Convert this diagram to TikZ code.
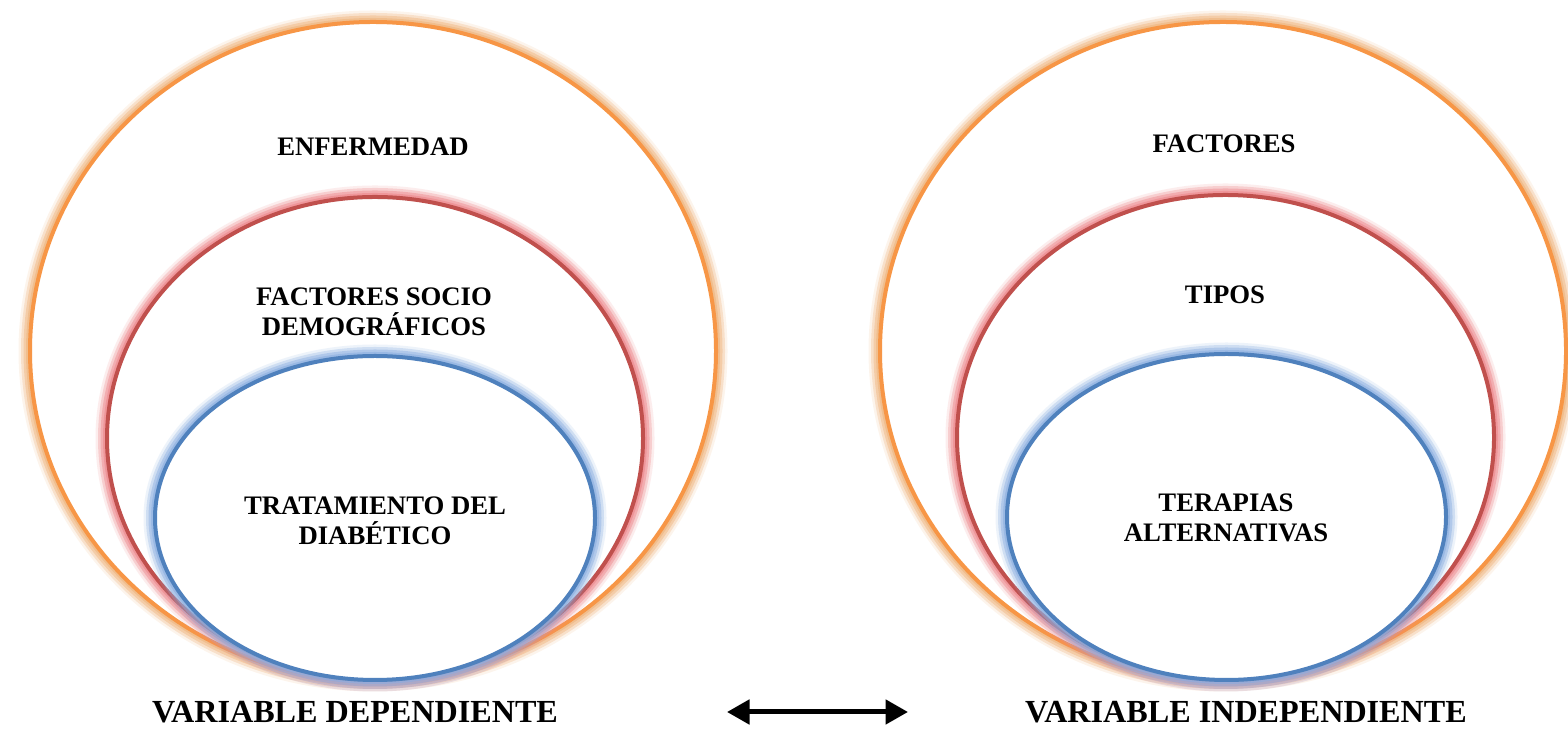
\documentclass[tikz,border=0pt]{standalone}
\usepackage{fontspec}
\setmainfont{Liberation Serif}
\usepackage{xcolor}
\definecolor{ringorange}{RGB}{247,150,70}
\definecolor{ringred}{RGB}{192,80,77}
\definecolor{ringblue}{RGB}{79,129,189}
\definecolor{gloworange}{RGB}{238,180,125}
\definecolor{glowred}{RGB}{238,135,140}
\definecolor{glowblue}{RGB}{140,175,225}
\usepackage{tikz}
\usetikzlibrary{arrows.meta, positioning, shapes.geometric}

\tikzset{
  ring/.style 2 args={ellipse, draw=#1, line width=0.08cm, fill=white, inner sep=0pt,
    preaction={draw=#2, line width=0.46cm, opacity=0.15},
    preaction={draw=#2, line width=0.36cm, opacity=0.3},
    preaction={draw=#2, line width=0.26cm, opacity=0.45},
    preaction={draw=#2, line width=0.16cm, opacity=0.6}},
  ringlabel/.style={font=\fontsize{15.2}{17}\selectfont\bfseries, align=center},
  varlabel/.style={font=\fontsize{18.3}{20}\selectfont\bfseries, align=center},
}

\begin{document}
\begin{tikzpicture}
  \useasboundingbox (0,0) rectangle (31.36,14.62);

  % Variable dependiente
  \node[ring={ringorange}{gloworange}, minimum width=13.72cm, minimum height=13.16cm] (depOuter) at (7.46,7.60) {};
  \node[ring={ringred}{glowred}, minimum width=10.72cm, minimum height=9.66cm] (depMid) at (7.50,5.85) {};
  \node[ring={ringblue}{glowblue}, minimum width=8.80cm, minimum height=6.48cm] (depInner) at (7.50,4.26) {};
  \node[ringlabel] (enfermedad) at (7.46,11.68) {ENFERMEDAD};
  \node[ringlabel] (factSocio) at (7.48,8.38) {FACTORES SOCIO\\DEMOGRÁFICOS};
  \node[ringlabel] (tratamiento) at (7.50,4.20) {TRATAMIENTO DEL\\DIABÉTICO};
  \node[varlabel] (varDep) at (7.10,0.38) {VARIABLE DEPENDIENTE};

  % Variable independiente
  \node[ring={ringorange}{gloworange}, minimum width=13.72cm, minimum height=13.16cm] (indOuter) at (24.46,7.60) {};
  \node[ring={ringred}{glowred}, minimum width=10.74cm, minimum height=9.70cm] (indMid) at (24.51,5.87) {};
  \node[ring={ringblue}{glowblue}, minimum width=8.78cm, minimum height=6.52cm] (indInner) at (24.53,4.28) {};
  \node[ringlabel] (factores) at (24.48,11.74) {FACTORES};
  \node[ringlabel] (tipos) at (24.50,8.72) {TIPOS};
  \node[ringlabel] (terapias) at (24.52,4.26) {TERAPIAS\\ALTERNATIVAS};
  \node[varlabel] (varInd) at (24.92,0.38) {VARIABLE INDEPENDIENTE};

  % Double arrow
  \coordinate (arrLeft) at (14.54,0.38);
  \coordinate (arrRight) at (18.16,0.38);
  \draw[line width=0.1cm, {Triangle[length=0.45cm, width=0.48cm]}-{Triangle[length=0.45cm, width=0.48cm]}] (arrLeft) -- (arrRight);
\end{tikzpicture}
\end{document}
